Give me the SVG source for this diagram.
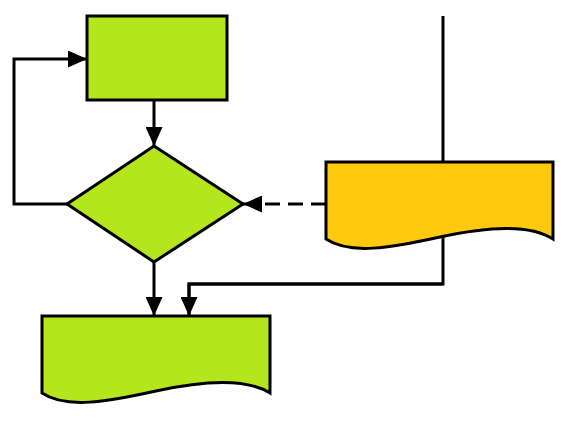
<svg xmlns="http://www.w3.org/2000/svg" width="568" height="422" viewBox="0 0 568 422">
<style>
.n{stroke:#000;stroke-width:3;stroke-linejoin:miter}
.g{fill:#b5e51d}
.o{fill:#ffc90e}
.c{fill:none;stroke:#000;stroke-width:3}
</style>
<defs>
<marker id="a" markerWidth="19" markerHeight="17" refX="19" refY="8.5" orient="auto" markerUnits="userSpaceOnUse" viewBox="0 0 19 17">
<path d="M0,0 L19,8.5 L0,17 Z" fill="#000"/>
</marker>
</defs>
<rect width="568" height="422" fill="#fff"/>
<g id="connectors-back">
<path class="c" d="M443,16 V284 H189 V316"/>
</g>
<g id="process"><rect class="n g" x="87" y="16" width="140" height="84"/></g>
<g id="decision"><path class="n g" d="M154,146 L243,204 L154,262 L67,204 Z"/></g>
<g id="doc-orange"><path class="n o" d="M326,162 H553 V239 C530,224 490,226 440,237 C390,248 350,255 326,239 Z"/></g>
<g id="doc-green"><path class="n g" d="M42,316 H270 V393 C246,378 206,380 156,391 C106,402 66,409 42,393 Z"/></g>
<g id="connectors">
<path class="c" d="M67,204 H14 V59 H87" marker-end="url(#a)"/>
<path class="c" d="M154,100 V146" marker-end="url(#a)"/>
<path class="c" d="M326,204 H243" stroke-dasharray="15,8" marker-end="url(#a)"/>
<path class="c" d="M154,262 V316" marker-end="url(#a)"/>
<path class="c" d="M443,284 H189 V316" marker-end="url(#a)"/>
</g>
</svg>
